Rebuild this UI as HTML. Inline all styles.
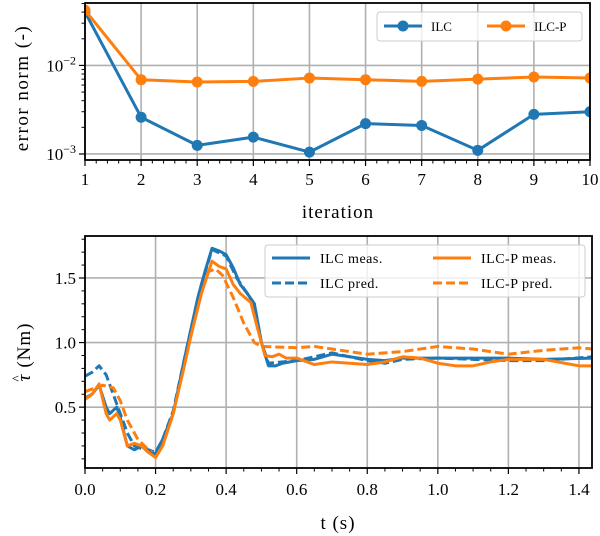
<!DOCTYPE html>
<html><head><meta charset="utf-8"><style>
body{margin:0;background:#fff}
svg{display:block;font-family:"Liberation Serif",serif}
</style></head><body>
<svg id="c" width="600" height="536" viewBox="0 0 600 536"></svg>
<script>
const iters=[1,2,3,4,5,6,7,8,9,10];
const ilcErr=[0.040,0.0026,0.00125,0.00155,0.00105,0.0022,0.0021,0.0011,0.0028,0.0030];
const ilcpErr=[0.042,0.0069,0.0065,0.0066,0.0072,0.0069,0.0066,0.0070,0.0074,0.0072];
const xTicksTop=['1','2','3','4','5','6','7','8','9','10'];

const tMeasIlc=[0,0.02,0.04,0.06,0.07,0.09,0.1,0.12,0.14,0.16,0.18,0.2,0.22,0.25,0.28,0.3,0.32,0.34,0.36,0.38,0.4,0.42,0.44,0.46,0.48,0.5,0.52,0.54,0.56,0.6,0.65,0.7,0.75,0.8,0.85,0.9,1.0,1.1,1.2,1.3,1.44];
const vMeasIlc=[0.57,0.6,0.67,0.5,0.45,0.5,0.42,0.2,0.17,0.2,0.15,0.14,0.25,0.45,0.85,1.1,1.35,1.55,1.73,1.71,1.68,1.58,1.45,1.38,1.3,1.0,0.82,0.82,0.84,0.86,0.87,0.91,0.89,0.87,0.86,0.88,0.88,0.88,0.88,0.87,0.88];
const tPredIlc=[0,0.02,0.04,0.06,0.08,0.1,0.12,0.14,0.16,0.18,0.2,0.22,0.25,0.28,0.3,0.33,0.36,0.4,0.43,0.46,0.48,0.5,0.52,0.6,0.7,0.8,0.85,0.9,1.0,1.2,1.3,1.44];
const vPredIlc=[0.74,0.77,0.82,0.75,0.6,0.45,0.3,0.2,0.18,0.17,0.15,0.25,0.47,0.85,1.1,1.45,1.72,1.67,1.5,1.38,1.3,1.0,0.84,0.86,0.92,0.86,0.84,0.87,0.88,0.86,0.86,0.89];
const tMeasP=[0,0.02,0.04,0.06,0.07,0.09,0.1,0.12,0.14,0.16,0.18,0.2,0.22,0.25,0.28,0.3,0.33,0.36,0.38,0.4,0.42,0.44,0.47,0.49,0.51,0.53,0.55,0.57,0.6,0.65,0.7,0.75,0.8,0.85,0.9,0.95,1.0,1.05,1.1,1.15,1.2,1.3,1.4,1.44];
const vMeasP=[0.56,0.6,0.68,0.45,0.4,0.45,0.4,0.2,0.22,0.2,0.15,0.11,0.2,0.45,0.8,1.05,1.38,1.63,1.59,1.57,1.45,1.38,1.31,1.1,0.9,0.89,0.91,0.88,0.88,0.83,0.85,0.84,0.83,0.85,0.89,0.88,0.84,0.82,0.82,0.85,0.87,0.87,0.82,0.82];
const tPredP=[0,0.03,0.05,0.08,0.1,0.12,0.15,0.18,0.2,0.22,0.25,0.28,0.3,0.33,0.35,0.37,0.39,0.42,0.45,0.48,0.5,0.6,0.65,0.7,0.8,0.9,1.0,1.1,1.2,1.3,1.4,1.44];
const vPredP=[0.62,0.65,0.67,0.65,0.55,0.4,0.25,0.17,0.13,0.2,0.45,0.82,1.05,1.4,1.55,1.57,1.52,1.35,1.15,1.0,0.97,0.96,0.97,0.95,0.91,0.93,0.97,0.95,0.91,0.94,0.96,0.95];
const xTicksBot=[0,0.2,0.4,0.6,0.8,1.0,1.2,1.4];
const yTicksBot=[0.5,1.0,1.5];

const NS='http://www.w3.org/2000/svg';
const svg=document.getElementById('c');
function mk(tag,attrs,parent){const e=document.createElementNS(NS,tag);for(const k in attrs)e.setAttribute(k,attrs[k]);(parent||svg).appendChild(e);return e;}
const BLUE='#1f77b4',ORANGE='#ff7f0e',GRID='#b0b0b0';

// ---- top chart ----
const T={l:85,r:590,t:3,b:160};
const lgTop=-1.295,lgBot=-3.068;
const tx=i=>T.l+(i-1)/9*(T.r-T.l);
const ty=v=>T.t+(lgTop-Math.log10(v))/(lgTop-lgBot)*(T.b-T.t);
const gTop=mk('g',{});


iters.forEach((it,i)=>{
  const x=tx(it);
  const gl=mk('line',{x1:x,x2:x,y1:T.t,y2:T.b,stroke:GRID,'stroke-width':1.6},gTop);
  
  mk('line',{x1:x,x2:x,y1:T.b,y2:T.b+6,stroke:'#000','stroke-width':1.2},gTop);
  const tl=mk('text',{x:x,y:T.b+25,'font-size':17,'text-anchor':'middle'},gTop);
  tl.textContent=xTicksTop[i];
  
  if(i<9) for(let k=1;k<5;k++){const xm=x+(tx(2)-tx(1))*k/5;mk('line',{x1:xm,x2:xm,y1:T.b,y2:T.b+3.5,stroke:'#000','stroke-width':1},gTop);}
});
[[0.01,'-2'],[0.001,'-3']].forEach(([v,e])=>{
  const y=ty(v);
  const gl=mk('line',{x1:T.l,x2:T.r,y1:y,y2:y,stroke:GRID,'stroke-width':1.6},gTop);
  
  mk('line',{x1:T.l-6,x2:T.l,y1:y,y2:y,stroke:'#000','stroke-width':1.2},gTop);
  const tl=mk('text',{x:T.l-9,y:y+6,'font-size':17,'text-anchor':'end'},gTop);
  tl.innerHTML='10<tspan dy="-7" font-size="12">'+e.replace('-','\u2212')+'</tspan>';
  
});
[0.002,0.003,0.004,0.005,0.006,0.007,0.008,0.009,0.02,0.03,0.04,0.05].forEach(v=>{const y=ty(v);if(y>=T.t&&y<=T.b)mk('line',{x1:T.l-3.5,x2:T.l,y1:y,y2:y,stroke:'#000','stroke-width':1},gTop);});
function series(xs,ys,fx,fy,color,name,marker,dash,parent){
  const d=xs.map((x,i)=>(i?'L':'M')+fx(x).toFixed(2)+','+fy(ys[i]).toFixed(2)).join('');
  const p=mk('path',{d:d,fill:'none',stroke:color,'stroke-width':3,'stroke-linejoin':'round','stroke-dasharray':dash||'none'},parent);
  
  if(marker) xs.forEach((x,i)=>{const c=mk('circle',{cx:fx(x),cy:fy(ys[i]),r:5.5,fill:color},parent);
    });
}
const clipT=mk('clipPath',{id:'ct'});mk('rect',{x:T.l,y:T.t,width:T.r-T.l,height:T.b-T.t},clipT);
const sT=mk('g',{'clip-path':'url(#ct)'},gTop);
series(iters,ilcErr,tx,ty,BLUE,'ilc-error-line',true,null,sT);
series(iters,ilcpErr,tx,ty,ORANGE,'ilc-p-error-line',true,null,sT);
mk('rect',{x:T.l,y:T.t,width:T.r-T.l,height:T.b-T.t,fill:'none',stroke:'#000','stroke-width':1.8},gTop);
const lt=mk('g',{},gTop);
mk('rect',{x:377,y:12,width:205,height:29,rx:3,fill:'#fff','fill-opacity':0.8,stroke:'#ccc'},lt);
[[BLUE,'ILC',384],[ORANGE,'ILC-P',487]].forEach(([c,l,x])=>{
  const g=mk('g',{},lt);
  mk('line',{x1:x,x2:x+38,y1:26,y2:26,stroke:c,'stroke-width':3},g);
  mk('circle',{cx:x+19,cy:26,r:5.5,fill:c},g);
  const t=mk('text',{x:x+47,y:31,'font-size':13},g);t.textContent=l;
});
let yl=mk('text',{transform:'translate(28,88) rotate(-90)','font-size':19,'letter-spacing':1.5,'text-anchor':'middle'});
yl.textContent='error norm (-)';
let xl=mk('text',{x:338,y:218,'font-size':19,'letter-spacing':1,'text-anchor':'middle'});
xl.textContent='iteration';

// ---- bottom chart ----
const B={l:85,r:592,t:236,b:468};
const xmin=0,xmax=1.437,ymin=0.029,ymax=1.825;
const bx=v=>B.l+(v-xmin)/(xmax-xmin)*(B.r-B.l);
const by=v=>B.b-(v-ymin)/(ymax-ymin)*(B.b-B.t);
const gB=mk('g',{});
xTicksBot.forEach(v=>{
  const x=bx(v);
  const gl=mk('line',{x1:x,x2:x,y1:B.t,y2:B.b,stroke:GRID,'stroke-width':1.6},gB);
  
  mk('line',{x1:x,x2:x,y1:B.b,y2:B.b+6,stroke:'#000','stroke-width':1.2},gB);
  const tl=mk('text',{x:x,y:B.b+27,'font-size':17,'text-anchor':'middle'},gB);
  tl.textContent=v.toFixed(1);
});
for(let v=0.05;v<xmax;v+=0.05){if(Math.abs(v*5-Math.round(v*5))>1e-6){const x=bx(v);mk('line',{x1:x,x2:x,y1:B.b,y2:B.b+3.5,stroke:'#000','stroke-width':1},gB);}}
yTicksBot.forEach(v=>{
  const y=by(v);
  const gl=mk('line',{x1:B.l,x2:B.r,y1:y,y2:y,stroke:GRID,'stroke-width':1.6},gB);
  
  mk('line',{x1:B.l-6,x2:B.l,y1:y,y2:y,stroke:'#000','stroke-width':1.2},gB);
  const tl=mk('text',{x:B.l-9,y:y+6,'font-size':17,'text-anchor':'end'},gB);
  tl.textContent=v.toFixed(1);
});
for(let k=1;k<19;k++){const v=k/10;if(k%5){const y=by(v);if(y>=B.t&&y<=B.b)mk('line',{x1:B.l-3.5,x2:B.l,y1:y,y2:y,stroke:'#000','stroke-width':1},gB);}}
const clipB=mk('clipPath',{id:'cb'});mk('rect',{x:B.l,y:B.t,width:B.r-B.l,height:B.b-B.t},clipB);
const sB=mk('g',{'clip-path':'url(#cb)'},gB);
series(tPredIlc,vPredIlc,bx,by,BLUE,'ilc-pred-line',false,'9,4',sB);
series(tPredP,vPredP,bx,by,ORANGE,'ilc-p-pred-line',false,'9,4',sB);
series(tMeasIlc,vMeasIlc,bx,by,BLUE,'ilc-meas-line',false,null,sB);
series(tMeasP,vMeasP,bx,by,ORANGE,'ilc-p-meas-line',false,null,sB);
mk('rect',{x:B.l,y:B.t,width:B.r-B.l,height:B.b-B.t,fill:'none',stroke:'#000','stroke-width':1.8},gB);
const lb=mk('g',{},gB);
mk('rect',{x:265,y:245,width:320,height:52,rx:3,fill:'#fff','fill-opacity':0.8,stroke:'#ccc'},lb);
[[BLUE,'ILC meas.',272,258,null],[BLUE,'ILC pred.',272,283,'9,4'],[ORANGE,'ILC-P meas.',433,258,null],[ORANGE,'ILC-P pred.',433,283,'9,4']].forEach(([c,l,x,y,d])=>{
  const g=mk('g',{},lb);
  mk('line',{x1:x,x2:x+38,y1:y,y2:y,stroke:c,'stroke-width':3,'stroke-dasharray':d||'none'},g);
  const t=mk('text',{x:x+48,y:y+5,'font-size':14,'letter-spacing':0.5},g);t.textContent=l;
});
yl=mk('text',{transform:'translate(30,352) rotate(-90)','font-size':19,'letter-spacing':1,'text-anchor':'middle'});
yl.innerHTML='<tspan font-style="italic">τ</tspan><tspan dx="-8" dy="-9" font-size="13" letter-spacing="0">^</tspan><tspan dx="2" dy="9"> (Nm)</tspan>';

xl=mk('text',{x:338,y:529,'font-size':19,'letter-spacing':1,'text-anchor':'middle'});
xl.textContent='t (s)';
</script>
</body></html>
